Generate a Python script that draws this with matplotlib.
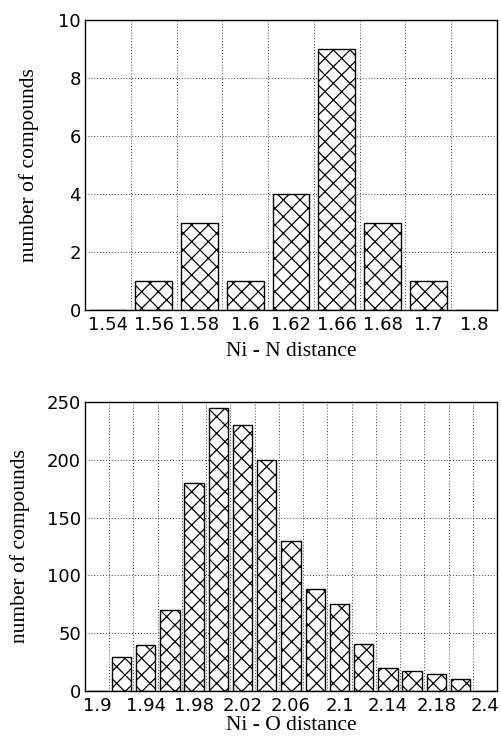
import matplotlib
matplotlib.use("Agg")
import matplotlib.pyplot as plt
import numpy as np

plt.rcParams['hatch.linewidth'] = 0.9

nin_labels = ["1.54", "1.56", "1.58", "1.6", "1.62", "1.66", "1.68", "1.7", "1.8"]
nin_counts = [0, 1, 3, 1, 4, 9, 3, 1, 0]

nio_categories = ["1.9", "1.92", "1.94", "1.96", "1.98", "2.0", "2.02", "2.04", "2.06",
                  "2.08", "2.1", "2.12", "2.14", "2.16", "2.18", "2.2", "2.4"]
nio_counts = [0, 29, 40, 70, 180, 245, 230, 200, 130, 88, 75, 41, 20, 17, 15, 10, 0]
nio_shown = ["1.9", "1.94", "1.98", "2.02", "2.06", "2.1", "2.14", "2.18", "2.4"]

W, H = 501, 736
fig = plt.figure(figsize=(W / 100, H / 100), dpi=100)

tick_font = dict(family="DejaVu Sans", size=13)
label_font = dict(family="Liberation Serif", size=15.5)


def style(ax, n, ymax, ystep):
    ax.set_xlim(-0.5, n - 0.5)
    ax.set_ylim(0, ymax)
    ax.set_yticks(np.arange(0, ymax + 1e-9, ystep))
    ax.set_xticks(np.arange(n - 1) + 0.5, minor=True)
    ax.grid(True, which='minor', axis='x', linestyle=(0, (1, 2)), color='#444444', linewidth=0.7)
    ax.grid(True, which='major', axis='y', linestyle=(0, (1, 2)), color='#444444', linewidth=0.7)
    ax.set_axisbelow(True)
    ax.tick_params(which='both', length=0)
    ax.tick_params(axis='x', pad=4)
    ax.tick_params(axis='y', pad=3)
    for lab in ax.get_xticklabels() + ax.get_yticklabels():
        lab.set_fontfamily(tick_font['family'])
        lab.set_fontsize(tick_font['size'])
    for s in ax.spines.values():
        s.set_linewidth(1.0)


ax1 = fig.add_axes([85 / W, 1 - 310 / H, 412 / W, 290 / H])
x1 = np.arange(len(nin_labels))
ax1.bar(x1, nin_counts, width=0.8, facecolor='white', edgecolor='black',
        hatch='xx', linewidth=1.0)
ax1.set_xticks(x1)
ax1.set_xticklabels(nin_labels)
style(ax1, len(nin_labels), 10, 2)
ax1.set_ylabel("number of compounds", **label_font, labelpad=14)
ax1.set_xlabel("Ni - N distance", **label_font, labelpad=6)

ax2 = fig.add_axes([85 / W, 1 - 691 / H, 412 / W, 289 / H])
x2 = np.arange(len(nio_categories))
ax2.bar(x2, nio_counts, width=0.8, facecolor='white', edgecolor='black',
        hatch='xx', linewidth=1.0)
shown_pos = [nio_categories.index(c) for c in nio_shown]
ax2.set_xticks(shown_pos)
ax2.set_xticklabels(nio_shown)
style(ax2, len(nio_categories), 250, 50)
ax2.set_ylabel("number of compounds", **label_font, labelpad=12)
ax2.set_xlabel("Ni - O distance", **label_font, labelpad=1)

fig.savefig("out.png", dpi=100)
